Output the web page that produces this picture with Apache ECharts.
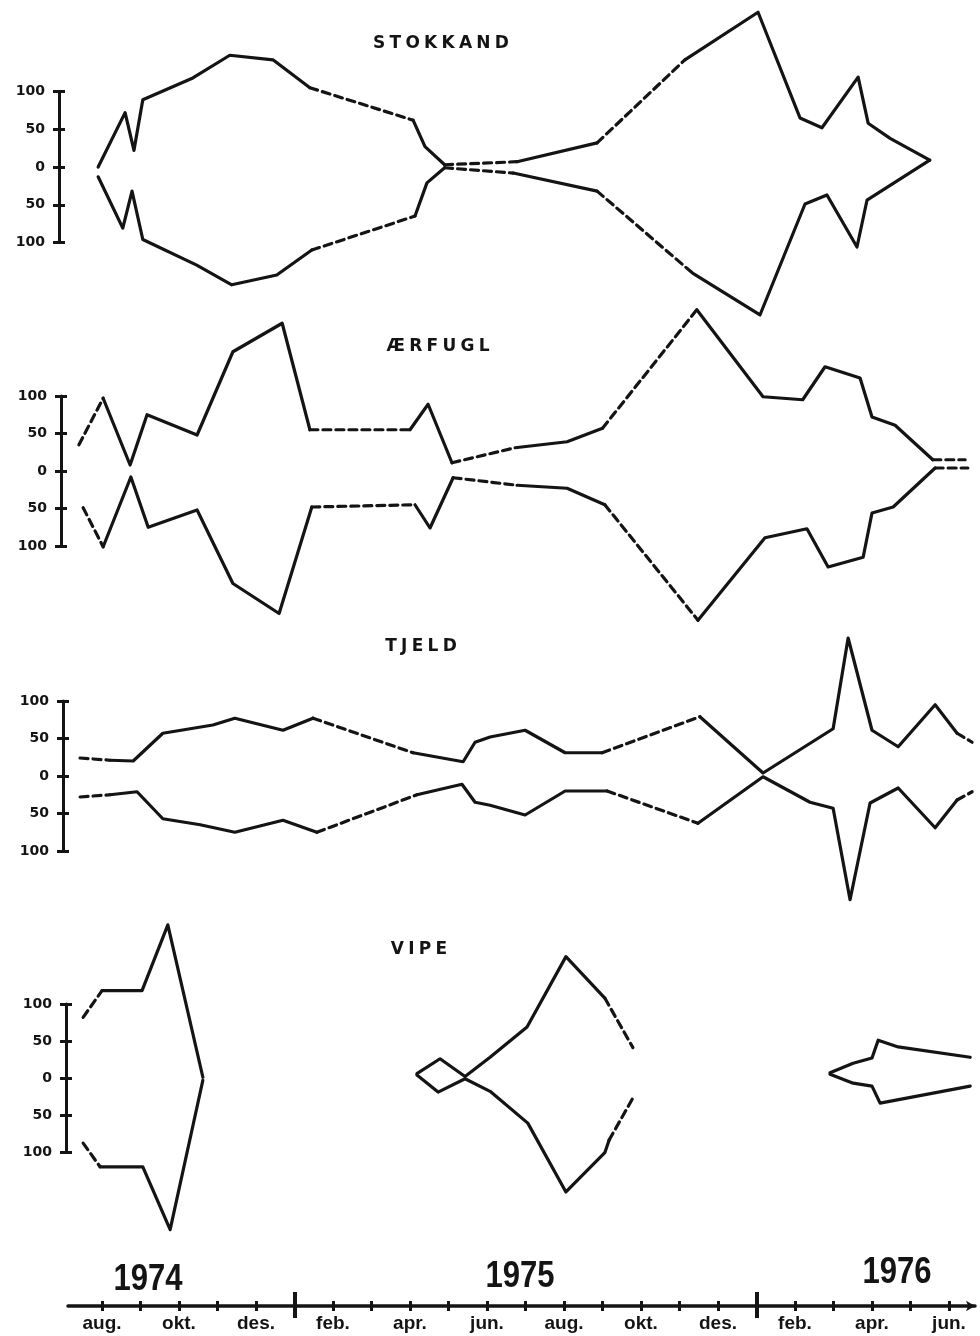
<!DOCTYPE html>
<html>
<head>
<meta charset="utf-8">
<title>Stokkand, Ærfugl, Tjeld, Vipe 1974–1976</title>
<script src="https://cdn.jsdelivr.net/npm/echarts@6/dist/echarts.min.js"></script>
<style>
  html, body { margin: 0; padding: 0; background: #fff; }
  #chart { width: 980px; height: 1336px; }
</style>
</head>
<body>
<div id="chart"></div>
<script>
// months counted from aug. 1974 (0) to jun. 1976 (22)
const monthLabels = ['aug.', 'sep.', 'okt.', 'nov.', 'des.', 'jan.', 'feb.', 'mar.', 'apr.', 'mai', 'jun.', 'jul.',
  'aug.', 'sep.', 'okt.', 'nov.', 'des.', 'jan.', 'feb.', 'mar.', 'apr.', 'mai', 'jun.'];
const monthTicks = [0, 1, 2, 3, 4, 5, 6, 7, 8, 9, 10, 11, 12, 13, 14, 15, 16, 17, 18, 19, 20, 21, 22];
const labelledMonths = [0, 2, 4, 6, 8, 10, 12, 14, 16, 18, 20, 22];
const yearStarts = [5, 17];
const years = ['1974', '1975', '1976'];

// segment kinds: s = solid, d = dashed, ' ' = no line
const stokkandUpperMonths = [-0.1, 0.6, 0.83, 1.06, 2.36, 3.32, 4.44, 5.4, 8.08, 8.39, 8.9, 10.78, 12.86, 15.14, 17.04, 18.13, 18.7, 19.64, 19.9, 20.47, 21.5];
const stokkandUpper = [0, 72, 22, 89, 118, 148, 142, 105, 62, 27, 3, 7, 32, 142, 205, 65, 52, 119, 58, 38, 9];
const stokkandUpperKind = 'sssssssdssdsdsssssss';
const stokkandLowerMonths = [-0.1, 0.54, 0.78, 1.06, 2.46, 3.37, 4.54, 5.45, 8.13, 8.44, 8.9, 10.68, 12.86, 15.35, 17.09, 18.26, 18.83, 19.61, 19.87, 21.5];
const stokkandLower = [-13, -81, -32, -96, -130, -156, -143, -110, -65, -21, -1, -8, -32, -141, -196, -49, -37, -106, -44, 9];
const stokkandLowerKind = 'sssssssdssdsdssssss';

const aerfuglUpperMonths = [-0.6, 0.03, 0.73, 1.17, 2.47, 3.4, 4.68, 5.4, 8.0, 8.47, 9.09, 10.73, 12.08, 13.0, 15.45, 17.17, 18.2, 18.78, 19.69, 20.0, 20.6, 21.58, 22.42];
const aerfuglUpper = [35, 97, 8, 75, 48, 159, 197, 55, 55, 89, 11, 31, 39, 57, 215, 99, 95, 139, 124, 72, 61, 15, 15];
const aerfuglUpperKind = 'dssssssdssdssdsssssssd';
const aerfuglLowerMonths = [-0.49, 0.03, 0.75, 1.2, 2.47, 3.4, 4.6, 5.45, 8.13, 8.52, 9.12, 10.78, 12.08, 13.06, 15.48, 17.22, 18.31, 18.86, 19.77, 20.0, 20.55, 21.64, 22.49];
const aerfuglLower = [-49, -101, -8, -75, -52, -150, -190, -48, -45, -76, -9, -19, -23, -45, -199, -89, -77, -128, -115, -56, -48, 4, 4];
const aerfuglLowerKind = 'dssssssdssdssdsssssssd';

const tjeldUpperMonths = [-0.57, 0.21, 0.81, 1.58, 2.88, 3.45, 4.7, 5.48, 8.08, 9.38, 9.69, 10.08, 10.99, 12.03, 12.99, 15.53, 17.17, 18.99, 19.38, 20.0, 20.68, 21.64, 22.21, 22.6];
const tjeldUpper = [24, 21, 20, 57, 68, 77, 61, 77, 31, 19, 45, 52, 61, 31, 31, 79, 4, 63, 184, 61, 39, 95, 57, 45];
const tjeldUpperKind = 'dssssssdssssssdsssssssd';
const tjeldLowerMonths = [-0.57, 0.21, 0.91, 1.58, 2.55, 3.45, 4.7, 5.58, 8.18, 9.35, 9.69, 10.08, 10.99, 12.03, 13.12, 15.48, 17.17, 18.39, 18.99, 19.43, 19.95, 20.68, 21.64, 22.21, 22.6];
const tjeldLower = [-28, -25, -21, -57, -65, -75, -59, -75, -25, -11, -35, -39, -52, -20, -20, -63, -1, -35, -43, -165, -36, -16, -69, -32, -21];
const tjeldLowerKind = 'dssssssdssssssdssssssssd';

const vipeUpperMonths = [-0.49, 0.0, 1.04, 1.71, 2.62, 8.18, 8.78, 9.43, 10.08, 11.04, 12.05, 13.06, 13.79, 18.91, 19.51, 20.0, 20.16, 20.68, 22.55];
const vipeUpper = [82, 118, 118, 207, 1, 6, 26, 2, 28, 69, 164, 108, 41, 7, 20, 27, 51, 42, 28];
const vipeUpperKind = 'dsss ssssssd sssss';
const vipeLowerMonths = [-0.49, -0.05, 1.06, 1.77, 2.62, 8.18, 8.73, 9.43, 10.08, 11.06, 12.05, 13.06, 13.17, 13.79, 18.91, 19.51, 20.0, 20.21, 22.55];
const vipeLower = [-88, -120, -120, -205, -3, 4, -19, -1, -18, -61, -154, -101, -84, -27, 5, -7, -11, -34, -11];
const vipeLowerKind = 'dsss sssssssd ssss';

// layout: pixel of aug. 1974 and pixels per month
const X0 = 102;
const MONTH_PX = 38.5;
const WIDTH = 980;
const RANGE = 230;
const INK = '#141414';
const sansFont = '"Liberation Sans", Arial, sans-serif';

const panels = [
  { title: 'STOKKAND', titleX: 441, titleY: 44, zeroY: 167, unit: 0.755, axisX: 59,
    lines: [[stokkandUpperMonths, stokkandUpper, stokkandUpperKind], [stokkandLowerMonths, stokkandLower, stokkandLowerKind]] },
  { title: 'ÆRFUGL', titleX: 438, titleY: 347, zeroY: 471, unit: 0.75, axisX: 61,
    lines: [[aerfuglUpperMonths, aerfuglUpper, aerfuglUpperKind], [aerfuglLowerMonths, aerfuglLower, aerfuglLowerKind]] },
  { title: 'TJELD', titleX: 421, titleY: 647, zeroY: 776, unit: 0.75, axisX: 63,
    lines: [[tjeldUpperMonths, tjeldUpper, tjeldUpperKind], [tjeldLowerMonths, tjeldLower, tjeldLowerKind]] },
  { title: 'VIPE', titleX: 419, titleY: 950, zeroY: 1078, unit: 0.74, axisX: 66,
    lines: [[vipeUpperMonths, vipeUpper, vipeUpperKind], [vipeLowerMonths, vipeLower, vipeLowerKind]] }
];

const grid = [];
const xAxis = [];
const yAxis = [];
const series = [];
const graphic = [];

function buildLine(months, values, kinds, xi, yi) {
  const runs = [];
  let run = null;
  for (let i = 0; i < kinds.length; i++) {
    const k = kinds[i];
    if (k === ' ') { run = null; continue; }
    if (!run || run.kind !== k) {
      run = { kind: k, data: [[months[i], values[i]]] };
      runs.push(run);
    }
    run.data.push([months[i + 1], values[i + 1]]);
  }
  runs.forEach(r => {
    series.push({
      type: 'line',
      xAxisIndex: xi,
      yAxisIndex: yi,
      data: r.data,
      symbol: 'none',
      showSymbol: false,
      clip: false,
      silent: true,
      lineStyle: { color: INK, width: 3.2, type: r.kind === 'd' ? [8, 5] : 'solid', cap: 'round', join: 'round' }
    });
  });
}

panels.forEach(p => {
  // data grid, full width
  const gi = grid.length;
  grid.push({ left: 0, width: WIDTH, top: p.zeroY - RANGE * p.unit, height: 2 * RANGE * p.unit, outerBoundsMode: 'none' });
  const xi = xAxis.length;
  xAxis.push({ type: 'value', gridIndex: gi, show: false, min: -X0 / MONTH_PX, max: (WIDTH - X0) / MONTH_PX });
  const yi = yAxis.length;
  yAxis.push({ type: 'value', gridIndex: gi, show: false, min: -RANGE, max: RANGE });
  p.lines.forEach(l => buildLine(l[0], l[1], l[2], xi, yi));

  // scale bar 100 - 0 - 100
  const si = grid.length;
  grid.push({ left: p.axisX, width: 1, top: p.zeroY - 100 * p.unit, height: 200 * p.unit, outerBoundsMode: 'none' });
  xAxis.push({ type: 'value', gridIndex: si, show: false, min: 0, max: 1 });
  yAxis.push({
    type: 'value', gridIndex: si, position: 'left', min: -100, max: 100, interval: 50,
    axisLine: { show: true, onZero: false, lineStyle: { color: INK, width: 3 } },
    axisTick: { show: true, length: 6, lineStyle: { color: INK, width: 3 } },
    axisLabel: { show: true, margin: 14, formatter: v => String(Math.abs(v)), color: INK, fontSize: 14, fontWeight: 'bold', fontFamily: '"DejaVu Sans", sans-serif' },
    splitLine: { show: false }
  });
  yAxis.push({
    type: 'value', gridIndex: si, position: 'left', min: -100, max: 100, interval: 50,
    axisLine: { show: false },
    axisTick: { show: true, inside: true, length: 6, lineStyle: { color: INK, width: 3 } },
    axisLabel: { show: false },
    splitLine: { show: false }
  });

  graphic.push({
    type: 'text', x: p.titleX, y: p.titleY, silent: true,
    style: { text: p.title.split('').join('\u2005'), fill: INK, font: 'bold 17px "DejaVu Sans", sans-serif', align: 'center', verticalAlign: 'middle' }
  });
});

// time axis at the bottom
const bi = grid.length;
const AXIS_LEFT = 68;
const AXIS_RIGHT = 975;
grid.push({ left: AXIS_LEFT, width: AXIS_RIGHT - AXIS_LEFT, top: 1296, height: 10, outerBoundsMode: 'none' });
yAxis.push({ type: 'value', gridIndex: bi, show: false, min: 0, max: 1 });
const tMin = (AXIS_LEFT - X0) / MONTH_PX;
const tMax = (AXIS_RIGHT - X0) / MONTH_PX;
const timeAxis = (extra) => Object.assign({
  type: 'value', gridIndex: bi, position: 'bottom', min: tMin, max: tMax,
  axisLine: { show: false },
  axisLabel: { show: false },
  splitLine: { show: false }
}, extra);
xAxis.push(timeAxis({
  axisLine: { show: true, onZero: false, symbol: ['none', 'arrow'], symbolSize: [8, 9], lineStyle: { color: INK, width: 3.5 } },
  axisTick: { show: true, customValues: monthTicks, length: 5, lineStyle: { color: INK, width: 3 } },
  axisLabel: {
    show: true, customValues: labelledMonths, margin: 8,
    formatter: v => monthLabels[Math.round(v)],
    color: INK, fontSize: 19, fontWeight: 'bold', fontFamily: sansFont
  }
}));
xAxis.push(timeAxis({ axisTick: { show: true, inside: true, customValues: monthTicks, length: 5, lineStyle: { color: INK, width: 3 } } }));
xAxis.push(timeAxis({ axisTick: { show: true, customValues: yearStarts, length: 12, lineStyle: { color: INK, width: 4 } } }));
xAxis.push(timeAxis({ axisTick: { show: true, inside: true, customValues: yearStarts, length: 14, lineStyle: { color: INK, width: 4 } } }));

const yearPos = [[148, 1280], [520, 1277], [897, 1273]];
years.forEach((y, i) => {
  graphic.push({
    type: 'text', x: yearPos[i][0], y: yearPos[i][1], scaleX: 0.84, silent: true,
    style: { text: y, fill: INK, font: 'bold 37px ' + sansFont, align: 'center', verticalAlign: 'middle' }
  });
});

const chart = echarts.init(document.getElementById('chart'), null, { renderer: 'canvas' });
chart.setOption({
  backgroundColor: '#fff',
  animation: false,
  grid,
  xAxis,
  yAxis,
  series,
  graphic
});
</script>
</body>
</html>
